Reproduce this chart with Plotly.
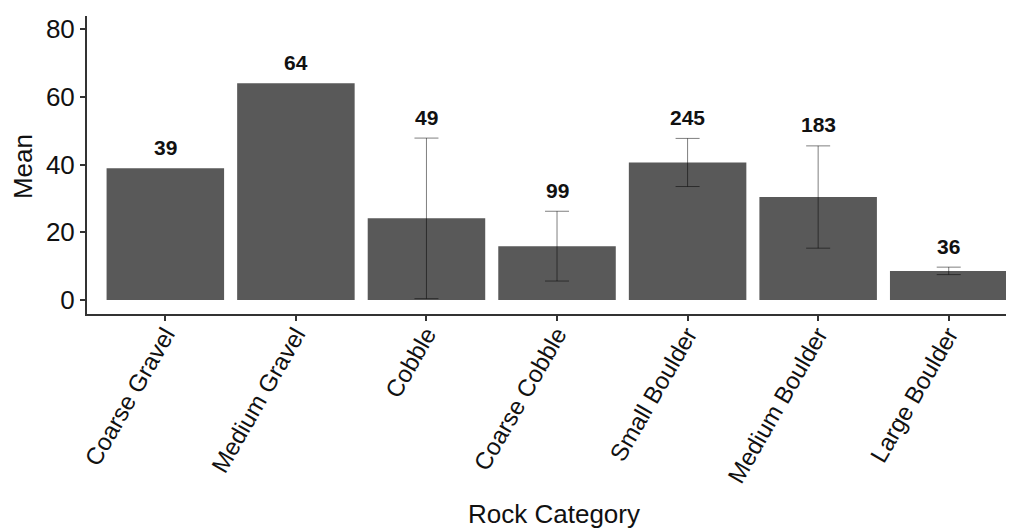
import plotly.graph_objects as go

categories = ["Coarse Gravel", "Medium Gravel", "Cobble", "Coarse Cobble",
              "Small Boulder", "Medium Boulder", "Large Boulder"]
means = [38.9, 64.0, 24.1, 15.9, 40.6, 30.4, 8.6]
errors = [None, None, 23.7, 10.3, 7.1, 15.1, 1.1]
counts = ["39", "64", "49", "99", "245", "183", "36"]

FONT = "Liberation Sans, Arial, sans-serif"
BAR_COLOR = "#595959"

fig = go.Figure()
fig.add_trace(go.Bar(
    x=categories, y=means, marker=dict(color=BAR_COLOR, line=dict(width=0)),
    showlegend=False, hoverinfo="skip",
))

ex = [c for c, e in zip(categories, errors) if e is not None]
ey = [m for m, e in zip(means, errors) if e is not None]
ee = [e for e in errors if e is not None]
fig.add_trace(go.Scatter(
    x=ex, y=ey, mode="markers", marker=dict(size=1, opacity=0),
    error_y=dict(type="data", array=ee, symmetric=True,
                 color="rgba(0,0,0,0.5)", thickness=1, width=12),
    showlegend=False, hoverinfo="skip",
))

for c, m, e, n in zip(categories, means, errors, counts):
    top = m + (e if e is not None else 0)
    fig.add_annotation(x=c, y=top, xref="x", yref="y", text=n, showarrow=False,
                       yanchor="middle", yshift=21,
                       font=dict(family=FONT, size=21, color="#111111", weight="bold"))

fig.add_annotation(x=0.504, y=-0.67, xref="paper", yref="paper", text="Rock Category",
                   showarrow=False, xanchor="center", yanchor="middle",
                   font=dict(family=FONT, size=26, color="#111111"))
fig.add_annotation(x=-0.069, y=0.493, xref="paper", yref="paper", text="Mean",
                   showarrow=False, textangle=-90, xanchor="center", yanchor="middle",
                   font=dict(family=FONT, size=26, color="#111111"))

fig.update_layout(
    width=1006, height=522,
    margin=dict(l=79, r=0, t=8, b=216),
    paper_bgcolor="white", plot_bgcolor="white",
    bargap=0.1,
    font=dict(family=FONT, color="#111111"),
    xaxis=dict(
        range=[-0.6, 6.5], showgrid=False, zeroline=False, automargin=False,
        showline=True, linecolor="#333333", linewidth=2,
        ticks="outside", ticklen=5, tickwidth=1.5, tickcolor="#333333",
        tickangle=-60, ticklabelstandoff=-10,
        tickfont=dict(family=FONT, size=24, color="#111111"),
    ),
    yaxis=dict(
        range=[-4.13, 83.84], showgrid=False, zeroline=False, automargin=False,
        showline=True, linecolor="#333333", linewidth=2,
        ticks="outside", ticklen=5, tickwidth=1.5, tickcolor="#333333",
        tickvals=[0, 20, 40, 60, 80],
        tickfont=dict(family=FONT, size=26, color="#111111"),
    ),
)

fig.write_html("out.html")
